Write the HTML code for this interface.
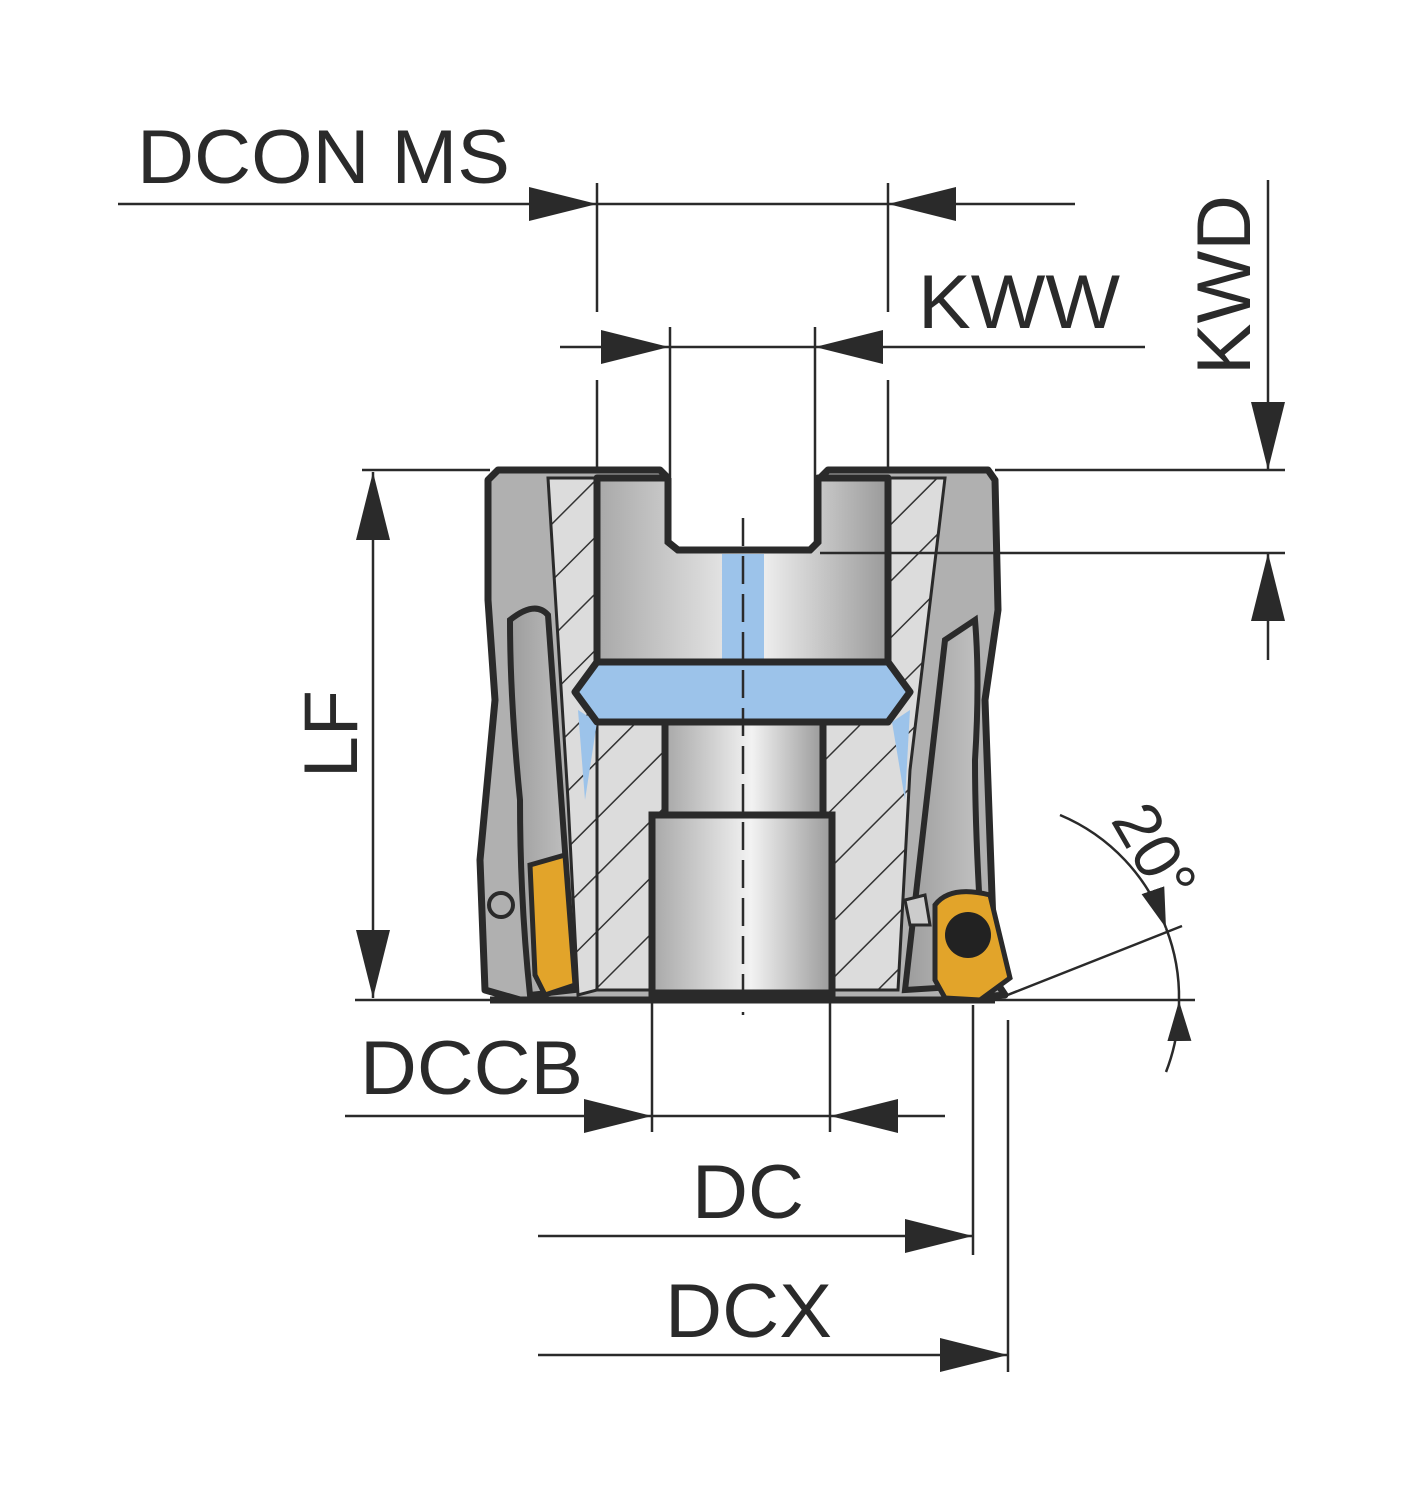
<!DOCTYPE html>
<html><head><meta charset="utf-8"><style>
html,body{margin:0;padding:0;background:#fff}
svg{display:block}
text{font-family:"Liberation Sans",sans-serif;fill:#2a2a2a}
</style></head><body>
<svg width="1404" height="1500" viewBox="0 0 1404 1500" xmlns="http://www.w3.org/2000/svg">
<defs>
<linearGradient id="g" x1="0" x2="1" y1="0" y2="0">
<stop offset="0" stop-color="#a8a8a8"/><stop offset="0.55" stop-color="#f2f2f2"/><stop offset="1" stop-color="#9a9a9a"/>
</linearGradient>
<linearGradient id="g2" x1="0" x2="1"><stop offset="0" stop-color="#9c9c9c"/><stop offset="1" stop-color="#c4c4c4"/></linearGradient>
<pattern id="h" width="40" height="40" patternUnits="userSpaceOnUse" patternTransform="rotate(-45)">
<rect width="40" height="40" fill="#dcdcdc"/><line x1="0" y1="0" x2="40" y2="0" stroke="#333" stroke-width="3"/>
</pattern>
<marker id="a" markerWidth="68" markerHeight="34" refX="68" refY="17" orient="auto" markerUnits="userSpaceOnUse" viewBox="0 0 68 34"><path d="M0,0 L68,17 L0,34Z" fill="#2a2a2a"/></marker>
<marker id="b" markerWidth="40" markerHeight="24" refX="40" refY="12" orient="auto" markerUnits="userSpaceOnUse" viewBox="0 0 40 24"><path d="M0,0 L40,12 L0,24Z" fill="#2a2a2a"/></marker>
</defs>
<g stroke="#2a2a2a" stroke-width="3" fill="none">
<!-- body outer with notch -->
<path d="M498,470 L660,470 L670,480 L670,542 L678,550 L810,550 L818,542 L818,480 L828,470 L988,470 L995,480 L998,610 L985,700 L995,980 L1005,995 L950,1000 L520,1000 L485,990 L480,860 L495,700 L488,600 L488,480 Z" fill="#b0b0b0" stroke-width="7" stroke-linejoin="round"/>
<!-- side bands -->
<path d="M510,620 Q535,600 548,615 L575,990 L530,995 Q520,900 520,800 Q510,700 510,620Z" fill="url(#g2)" stroke-width="6"/>
<path d="M975,620 Q960,630 945,640 L905,990 L985,985 Q975,850 975,760 Q980,680 975,620Z" fill="url(#g2)" stroke-width="6"/>
<!-- hatched sections -->
<path d="M548,478 L597,478 L597,990 L578,995 L568,800 Z" fill="url(#h)" stroke-width="3"/>
<path d="M888,478 L945,478 L910,770 L898,990 L832,990 L832,815 L823,815 L823,722 L888,722 Z" fill="url(#h)" stroke-width="3"/>
<path d="M597,722 L665,722 L665,815 L652,815 L652,990 L597,990 Z" fill="url(#h)" stroke-width="3"/>
<path d="M578,710 L597,722 L585,800 Z" fill="#9cc3ea" stroke="none"/>
<path d="M910,710 L892,722 L905,800 Z" fill="#9cc3ea" stroke="none"/>
<!-- upper bore with notch -->
<path d="M597,478 L668,478 L668,542 L678,550 L810,550 L818,542 L818,478 L888,478 L888,662 L597,662 Z" fill="url(#g)" stroke-width="7" stroke-linejoin="round"/>
<path d="M670,472 L670,540 L680,548 L808,548 L816,540 L816,472 Z" fill="#fff" stroke="none"/>
<path d="M668,478 L668,542 L678,550 L810,550 L818,542 L818,478" stroke-width="7"/>
<rect x="722" y="554" width="42" height="108" fill="#9cc3ea" stroke="none"/>
<!-- flange -->
<path d="M597,662 L888,662 L910,692 L888,722 L597,722 L575,692 Z" fill="#9cc3ea" stroke-width="7" stroke-linejoin="round"/>
<rect x="665" y="722" width="158" height="93" fill="url(#g)" stroke-width="7"/>
<rect x="652" y="815" width="180" height="178" fill="url(#g)" stroke-width="7"/>
<line x1="490" y1="1000" x2="995" y2="1000" stroke-width="7"/>
<!-- inserts -->
<path d="M530,865 L565,855 L575,985 L545,995 L535,975 Z" fill="#e2a42a" stroke-width="5"/>
<path d="M935,905 Q950,885 990,895 L1010,978 L980,1000 L945,998 L935,980 Z" fill="#e2a42a" stroke-width="5"/>
<circle cx="968" cy="935" r="23" fill="#222" stroke="none"/>
<circle cx="501" cy="905" r="12" stroke-width="4"/>
<path d="M905,900 L925,895 L930,925 L910,925Z" fill="#ccc" stroke-width="3"/>
</g>
<line x1="743" y1="518" x2="743" y2="1015" stroke="#2a2a2a" stroke-width="2.5" stroke-dasharray="28,10"/>
<!-- dimension lines -->
<g stroke="#2a2a2a" stroke-width="2.5" fill="none">
<line x1="118" y1="204" x2="597" y2="204" marker-end="url(#a)"/>
<line x1="597" y1="204" x2="888" y2="204"/>
<line x1="1075" y1="204" x2="888" y2="204" marker-end="url(#a)"/>
<line x1="597" y1="183" x2="597" y2="312"/><line x1="888" y1="183" x2="888" y2="312"/>
<line x1="597" y1="380" x2="597" y2="470"/><line x1="888" y1="380" x2="888" y2="470"/>
<line x1="560" y1="347" x2="669" y2="347" marker-end="url(#a)"/>
<line x1="669" y1="347" x2="815" y2="347"/>
<line x1="1145" y1="347" x2="815" y2="347" marker-end="url(#a)"/>
<line x1="670" y1="327" x2="670" y2="545"/><line x1="815" y1="327" x2="815" y2="545"/>
<line x1="1268" y1="180" x2="1268" y2="470" marker-end="url(#a)"/>
<line x1="1268" y1="660" x2="1268" y2="553" marker-end="url(#a)"/>
<line x1="995" y1="470" x2="1285" y2="470"/><line x1="820" y1="553" x2="1285" y2="553"/>
<line x1="362" y1="470" x2="490" y2="470"/><line x1="355" y1="1000" x2="1195" y2="1000"/>
<line x1="373" y1="735" x2="373" y2="472" marker-end="url(#a)"/>
<line x1="373" y1="735" x2="373" y2="998" marker-end="url(#a)"/>
<line x1="345" y1="1116" x2="652" y2="1116" marker-end="url(#a)"/>
<line x1="652" y1="1116" x2="830" y2="1116"/>
<line x1="945" y1="1116" x2="830" y2="1116" marker-end="url(#a)"/>
<line x1="652" y1="995" x2="652" y2="1132"/><line x1="830" y1="995" x2="830" y2="1132"/>
<line x1="538" y1="1236" x2="973" y2="1236" marker-end="url(#a)"/>
<line x1="973" y1="1005" x2="973" y2="1255"/>
<line x1="538" y1="1355" x2="1008" y2="1355" marker-end="url(#a)"/>
<line x1="1008" y1="1020" x2="1008" y2="1372"/>
<line x1="1000" y1="998" x2="1182" y2="926"/>
<path d="M1060,815 A190,190 0 0 1 1166,928" marker-end="url(#b)"/>
<path d="M1166,1072 A190,190 0 0 0 1179,1001" marker-end="url(#b)"/>
<path d="M1166,928 A190,190 0 0 1 1179,1001"/>
</g>
<!-- labels -->
<text x="137" y="183" font-size="76" textLength="373" lengthAdjust="spacingAndGlyphs">DCON MS</text>
<text x="918" y="328" font-size="76" textLength="202" lengthAdjust="spacingAndGlyphs">KWW</text>
<text transform="translate(1250,375) rotate(-90)" font-size="76" textLength="180" lengthAdjust="spacingAndGlyphs">KWD</text>
<text transform="translate(357,778) rotate(-90)" font-size="76" textLength="88" lengthAdjust="spacingAndGlyphs">LF</text>
<text x="360" y="1094" font-size="76" textLength="223" lengthAdjust="spacingAndGlyphs">DCCB</text>
<text x="692" y="1218" font-size="76" textLength="112" lengthAdjust="spacingAndGlyphs">DC</text>
<text x="665" y="1337" font-size="76" textLength="167" lengthAdjust="spacingAndGlyphs">DCX</text>
<text transform="translate(1110,820) rotate(60)" font-size="66">20°</text>
</svg>
</body></html>
